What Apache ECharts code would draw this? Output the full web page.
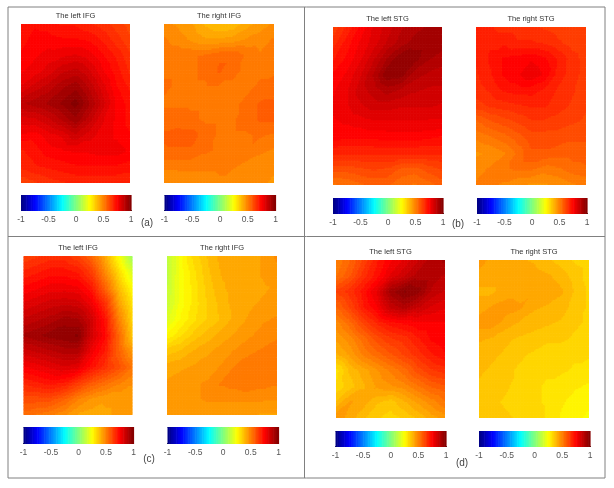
<!DOCTYPE html>
<html><head><meta charset="utf-8">
<style>html,body{margin:0;padding:0;background:#fff}#c{width:614px;height:488px}</style>
<script src="https://cdn.jsdelivr.net/npm/echarts@6/dist/echarts.min.js"></script></head>
<body><div id="c"></div>
<script>
const tickLabels = [-1, -0.5, 0, 0.5, 1];
const panelTitles = ['The left IFG','The right IFG','The left STG','The right STG','The left IFG','The right IFG','The left STG','The right STG'];
const panelLetters = ['(a)','(b)','(c)','(d)'];

const leftIfgA = [
[.72,.73,.72,.70,.70,.68,.66,.63,.60],
[.72,.75,.75,.74,.74,.73,.70,.66,.62],
[.74,.76,.78,.79,.80,.78,.74,.70,.65],
[.76,.78,.81,.85,.87,.83,.77,.72,.67],
[.80,.84,.87,.91,.94,.88,.81,.74,.70],
[.88,.90,.92,.95,.99,.92,.84,.76,.72],
[.81,.82,.85,.89,.94,.87,.80,.76,.72],
[.76,.75,.78,.80,.85,.81,.78,.76,.74],
[.70,.72,.75,.76,.77,.77,.78,.78,.76],
[.68,.70,.71,.72,.73,.73,.73,.73,.72],
[.62,.64,.66,.67,.68,.68,.68,.68,.68]];
const rightIfgA = [
[.47,.46,.44,.40,.38,.38,.42,.45,.47],
[.50,.48,.46,.44,.44,.45,.47,.48,.50],
[.52,.52,.52,.53,.55,.55,.52,.50,.50],
[.52,.52,.52,.53,.56,.53,.52,.52,.52],
[.53,.52,.52,.52,.52,.52,.52,.53,.54],
[.52,.52,.52,.52,.52,.52,.53,.56,.56],
[.54,.54,.53,.52,.52,.52,.54,.56,.56],
[.56,.57,.57,.54,.52,.52,.52,.53,.52],
[.55,.55,.55,.53,.52,.52,.52,.50,.49],
[.50,.50,.50,.50,.50,.50,.48,.48,.47],
[.47,.48,.48,.48,.49,.47,.47,.47,.46]];
const leftStgB = [
[.62,.68,.74,.80,.84,.88,.90,.92,.94],
[.66,.72,.77,.81,.86,.90,.93,.93,.93],
[.70,.74,.79,.85,.92,.97,.96,.92,.90],
[.74,.77,.82,.89,.97,.96,.90,.88,.87],
[.76,.79,.84,.87,.90,.88,.86,.85,.85],
[.77,.79,.82,.84,.84,.83,.83,.83,.82],
[.76,.77,.78,.79,.79,.79,.79,.79,.79],
[.75,.74,.74,.74,.75,.75,.75,.74,.73],
[.68,.68,.68,.68,.68,.68,.68,.68,.68],
[.60,.60,.61,.62,.61,.58,.57,.60,.62],
[.52,.53,.55,.56,.56,.53,.52,.54,.57]];
const rightStgB = [
[.68,.68,.66,.66,.65,.64,.63,.62,.62],
[.68,.70,.70,.68,.68,.67,.65,.63,.62],
[.68,.71,.74,.75,.76,.74,.70,.66,.63],
[.67,.70,.74,.76,.79,.76,.69,.66,.63],
[.66,.68,.71,.72,.72,.70,.67,.65,.63],
[.63,.65,.66,.67,.68,.68,.66,.64,.62],
[.55,.58,.60,.62,.64,.64,.63,.62,.61],
[.50,.52,.54,.57,.60,.60,.60,.59,.59],
[.46,.47,.49,.53,.58,.58,.57,.57,.57],
[.48,.50,.52,.53,.53,.51,.52,.54,.55],
[.50,.50,.49,.47,.46,.46,.47,.49,.50]];
const leftIfgC = [
[.62,.64,.66,.66,.62,.55,.42,.24,.06],
[.68,.70,.72,.72,.70,.63,.48,.32,.17],
[.74,.76,.78,.78,.77,.71,.56,.38,.25],
[.80,.82,.84,.85,.84,.78,.66,.44,.30],
[.86,.88,.90,.93,.92,.84,.72,.50,.33],
[.92,.94,.96,.97,.98,.84,.74,.55,.36],
[.84,.86,.88,.90,.90,.78,.70,.56,.45],
[.76,.78,.80,.82,.80,.72,.66,.60,.52],
[.68,.70,.72,.70,.64,.58,.54,.50,.47],
[.60,.60,.60,.56,.50,.46,.44,.44,.45],
[.54,.52,.50,.47,.43,.42,.43,.44,.44]];
const rightIfgC = [
[.12,.24,.33,.38,.42,.42,.42,.44,.47],
[.12,.24,.31,.37,.41,.42,.42,.44,.46],
[.13,.24,.30,.36,.40,.42,.42,.43,.44],
[.14,.24,.30,.35,.39,.42,.43,.44,.45],
[.18,.26,.31,.35,.38,.42,.44,.46,.47],
[.26,.31,.36,.39,.42,.44,.46,.48,.49],
[.36,.38,.41,.43,.45,.47,.49,.50,.51],
[.42,.43,.44,.45,.47,.50,.51,.52,.52],
[.44,.45,.46,.47,.50,.51,.52,.51,.50],
[.44,.44,.46,.47,.47,.47,.47,.47,.47],
[.44,.44,.44,.44,.44,.44,.44,.43,.43]];
const leftStgD = [
[.50,.55,.62,.70,.76,.80,.85,.90,.92],
[.52,.58,.66,.72,.80,.85,.90,.90,.88],
[.62,.66,.72,.80,.93,.98,.96,.88,.85],
[.55,.62,.70,.76,.86,.90,.86,.82,.80],
[.48,.54,.62,.68,.72,.74,.76,.76,.76],
[.44,.48,.54,.60,.64,.66,.70,.74,.76],
[.40,.44,.50,.54,.58,.62,.66,.70,.73],
[.30,.38,.42,.46,.50,.54,.60,.64,.66],
[.32,.36,.40,.44,.46,.48,.52,.56,.58],
[.38,.44,.42,.38,.36,.40,.44,.48,.52],
[.46,.42,.38,.35,.33,.35,.38,.42,.45]];
const rightStgD = [
[.46,.42,.41,.41,.40,.38,.36,.34,.33],
[.42,.42,.42,.43,.42,.41,.39,.36,.33],
[.40,.40,.42,.42,.43,.43,.41,.37,.34],
[.42,.44,.45,.44,.41,.40,.39,.36,.34],
[.45,.45,.42,.40,.39,.38,.37,.35,.34],
[.41,.40,.38,.37,.36,.35,.35,.34,.33],
[.39,.38,.37,.35,.34,.33,.33,.32,.32],
[.38,.37,.35,.34,.33,.32,.32,.31,.30],
[.37,.36,.35,.33,.32,.31,.30,.29,.28],
[.36,.35,.34,.33,.32,.31,.29,.27,.26],
[.36,.36,.35,.34,.33,.31,.28,.26,.25]];
const panelValues = [leftIfgA,rightIfgA,leftStgB,rightStgB,leftIfgC,rightIfgC,leftStgD,rightStgD];

// layout: [map x, map y, map w, map h, colourbar x, colourbar y, colourbar w, colourbar h]
const layout = [
[21,24,109,159, 21,195,110,16],[164,24,110,159, 164.5,195,111,16],
[333,27,109,158, 333,198,110,16],[476,27,110,158, 477,198,110,16],
[23.5,256,109,159, 23.5,427,110,17],[167,256,110,159, 167.5,427,111,17],
[336,260,109,158, 335.5,431,110.5,16],[479,260,110,158, 479,431,111,16]];
const letterPos = [[147,224],[458,225],[149,460],[462,464]];

// MATLAB jet colour scale over -1..1
function jet(v) {
  const t = (v + 1) / 2;
  const ramp = c => Math.round(255 * Math.max(0, Math.min(1, c)));
  const r = ramp(Math.min(4*t - 1.5, 4.5 - 4*t));
  const g = ramp(Math.min(4*t - 0.5, 3.5 - 4*t));
  const b = ramp(Math.min(4*t + 0.5, 2.5 - 4*t));
  return 'rgb(' + r + ',' + g + ',' + b + ')';
}
const bandStep = 0.03;    // contour band width of the filled map
const shadePx = 1.5;      // size of a shading block inside a mesh cell

const barSteps = 64;
const colourbarLevels = [];
for (let i = 0; i < barSteps; i++) {
  colourbarLevels.push([-1 + 2*i/barSteps, -1 + 2*(i+1)/barSteps, -1 + 2*(i+.5)/barSteps]);
}

function meshRenderer(values) {
  const nRows = values.length, nCols = values[0].length;
  return (params, api) => {
    const c = api.value(0), r = api.value(1);
    if (c >= nCols - 1 || r >= nRows - 1) return null;
    const a = api.coord([c, r]), b = api.coord([c + 1, r + 1]);
    const v00 = values[r][c], v10 = values[r][c+1], v01 = values[r+1][c], v11 = values[r+1][c+1];
    const nx = Math.max(1, Math.round((b[0]-a[0]) / shadePx));
    const ny = Math.max(1, Math.round((b[1]-a[1]) / shadePx));
    const children = [];
    for (let j = 0; j < ny; j++) {
      for (let i = 0; i < nx; i++) {
        const u = (i + .5) / nx, w = (j + .5) / ny;
        // piecewise-planar shading across the two triangles of the mesh cell
        const val = (u + w < 1)
          ? v00 + (v10 - v00) * u + (v01 - v00) * w
          : v11 + (v01 - v11) * (1 - u) + (v10 - v11) * (1 - w);
        const level = Math.round(val / bandStep) * bandStep;
        const x0 = a[0] + (b[0]-a[0]) * i / nx, y0 = a[1] + (b[1]-a[1]) * j / ny;
        children.push({type:'rect',
          shape:{x:x0, y:y0, width:(b[0]-a[0])/nx + (i < nx-1 || c < nCols-2 ? 0.6 : 0), height:(b[1]-a[1])/ny + (j < ny-1 || r < nRows-2 ? 0.6 : 0)},
          style:{fill:jet(level)}});
      }
    }
    return {type:'group', children};
  };
}

const grid = [], xAxis = [], yAxis = [], series = [], title = [];

layout.forEach((p, k) => {
  const values = panelValues[k];
  const mapIdx = grid.length;
  grid.push({left:p[0], top:p[1], width:p[2], height:p[3]});
  xAxis.push({gridIndex:mapIdx, type:'value', min:0, max:values[0].length-1, show:false});
  yAxis.push({gridIndex:mapIdx, type:'value', min:0, max:values.length-1, inverse:true, show:false});
  const d = [];
  values.forEach((r, y) => r.forEach((v, x) => d.push([x, y, v])));
  series.push({type:'custom', xAxisIndex:mapIdx, yAxisIndex:mapIdx, data:d, silent:true, animation:false,
    progressive:0, encode:{x:0, y:1}, renderItem:meshRenderer(values)});

  const barIdx = grid.length;
  grid.push({left:p[4], top:p[5], width:p[6], height:p[7]});
  xAxis.push({gridIndex:barIdx, type:'value', min:-1, max:1, interval:0.5,
    axisLine:{show:false}, splitLine:{show:false},
    axisTick:{show:true, inside:true, length:1, lineStyle:{color:'#333', width:1}},
    axisLabel:{show:true, margin:4, fontSize:8.5, color:'#555', fontFamily:'Liberation Sans',
      formatter: v => tickLabels.includes(v) ? String(v) : '', showMinLabel:true, showMaxLabel:true, hideOverlap:false}});
  yAxis.push({gridIndex:barIdx, type:'value', min:0, max:1, show:false});
  series.push({type:'custom', xAxisIndex:barIdx, yAxisIndex:barIdx, data:colourbarLevels, silent:true, animation:false,
    encode:{x:[0,1]},
    renderItem:(params, api) => {
      const a = api.coord([api.value(0), 0]);
      const b = api.coord([api.value(1), 1]);
      return {type:'rect', shape:{x:a[0], y:b[1], width:b[0]-a[0]+0.6, height:a[1]-b[1]},
        style:{fill:jet(api.value(2))}};
    }});

  title.push({text:panelTitles[k], left:p[0]+p[2]/2, top:p[1]-12, textAlign:'center',
    textStyle:{fontSize:7.5, fontWeight:'normal', color:'#333', fontFamily:'Liberation Sans'}, padding:0});
});

panelLetters.forEach((t, i) => title.push({text:t, left:letterPos[i][0], top:letterPos[i][1]-6, textAlign:'center',
  textStyle:{fontSize:10, fontWeight:'normal', color:'#444', fontFamily:'Liberation Sans'}, padding:0}));

const frame = [[8,7,605,7],[8,7,8,478],[8,478,605,478],[605,7,605,478],[304.5,7,304.5,478],[8,236.5,605,236.5]];
const barEdges = layout.map(p => [p[4], p[5]+.5, p[4]+p[6], p[5]+.5]);
const chart = echarts.init(document.getElementById('c'), null, {renderer:'canvas'});
chart.setOption({
  backgroundColor:'#fff', animation:false, title, grid, xAxis, yAxis, series,
  graphic: frame.map(f => ({type:'line', silent:true, shape:{x1:f[0],y1:f[1],x2:f[2],y2:f[3]}, style:{stroke:'#808080', lineWidth:1}}))
    .concat(barEdges.map(f => ({type:'line', silent:true, shape:{x1:f[0],y1:f[1],x2:f[2],y2:f[3]}, style:{stroke:'#555', lineWidth:1}})))
});
</script></body></html>
